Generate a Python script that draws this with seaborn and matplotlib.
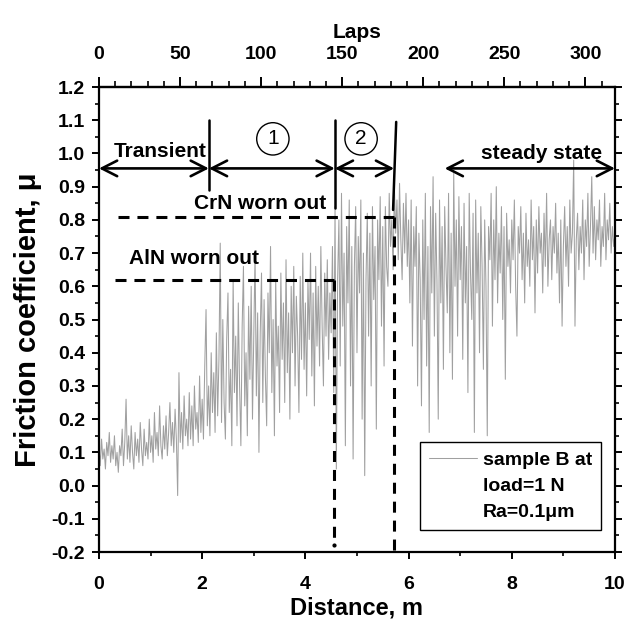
import numpy as np
import pandas as pd
import matplotlib
matplotlib.use("Agg")
import matplotlib.pyplot as plt
import seaborn as sns
from matplotlib.lines import Line2D
from matplotlib.ticker import MultipleLocator

# ---------------- data ----------------
step = 0.025  # sampling step of the trace along the distance axis, m
mu = [
    0.12, 0.06, 0.14, 0.08, 0.11, 0.05, 0.13, 0.09, 0.16, 0.07,
    0.12, 0.08, 0.15, 0.06, 0.10, 0.04, 0.12, 0.09, 0.17, 0.06,
    0.13, 0.26, 0.08, 0.15, 0.07, 0.18, 0.10, 0.05, 0.16, 0.09,
    0.14, 0.07, 0.19, 0.11, 0.06, 0.17, 0.09, 0.13, 0.08, 0.20,
    0.10, 0.15, 0.07, 0.22, 0.11, 0.16, 0.09, 0.24, 0.12, 0.08,
    0.18, 0.11, 0.21, 0.09, 0.16, 0.25, 0.12, 0.19, 0.10, 0.23,
    0.14, -0.03, 0.34, 0.13, 0.22, 0.11, 0.27, 0.15, 0.20, 0.12,
    0.28, 0.14, 0.24, 0.12, 0.30, 0.17, 0.22, 0.13, 0.33, 0.16,
    0.26, 0.14, 0.36, 0.53, 0.18, 0.30, 0.15, 0.40, 0.22, 0.34,
    0.16, 0.46, 0.21, 0.38, 0.73, 0.19, 0.50, 0.25, 0.14, 0.44,
    0.58, 0.22, 0.35, 0.12, 0.62, 0.28, 0.45, 0.18, 0.55, 0.30,
    0.12, 0.48, 0.66, 0.24, 0.40, 0.15, 0.54, 0.32, 0.60, 0.20,
    0.44, 0.70, 0.27, 0.52, 0.10, 0.46, 0.64, 0.25, 0.56, 0.33,
    0.18, 0.58, 0.40, 0.72, 0.28, 0.50, 0.15, 0.62, 0.36, 0.48,
    0.22, 0.64, 0.38, 0.55, 0.25, 0.68, 0.34, 0.52, 0.20, 0.60,
    0.40, 0.66, 0.30, 0.57, 0.45, 0.22, 0.63, 0.38, 0.70, 0.35,
    0.55, 0.27, 0.62, 0.44, 0.70, 0.33, 0.58, 0.24, 0.66, 0.42,
    0.60, 0.36, 0.72, 0.48, 0.30, 0.64, 0.45, 0.68, 0.38, 0.58,
    0.46, 0.72, 0.28, 0.84, 0.05, 0.62, 0.80, 0.36, 0.88, 0.48,
    0.70, 0.12, 0.78, 0.55, 0.86, 0.30, 0.72, 0.08, 0.66, 0.84,
    0.40, 0.75, 0.58, 0.86, 0.20, 0.70, 0.03, 0.62, 0.82, 0.45,
    0.76, 0.30, 0.84, 0.56, 0.72, 0.17, 0.80, 0.62, 0.87, 0.48,
    0.78, 0.36, 0.84, 0.66, 0.60, 0.88, 0.72, 0.80, 0.65, 0.90,
    0.76, 0.86, 0.68, 0.91, 0.74, 0.62, 0.85, 0.70, 0.88, 0.66,
    0.80, 0.55, 0.86, 0.42, 0.78, 0.66, 0.84, 0.30, 0.76, 0.62,
    0.24, 0.80, 0.50, 0.88, 0.36, 0.72, 0.16, 0.84, 0.58, 0.93,
    0.45, 0.82, 0.62, 0.20, 0.86, 0.55, 0.78, 0.35, 0.84, 0.66,
    0.52, 0.88, 0.40, 0.76, 0.32, 0.94, 0.60, 0.80, 0.45, 0.87,
    0.62, 0.78, 0.38, 0.85, 0.55, 0.72, 0.28, 0.88, 0.64, 0.50,
    0.82, 0.16, 0.86, 0.58, 0.76, 0.40, 0.84, 0.66, 0.35, 0.80,
    0.60, 0.15, 0.78, 0.68, 0.88, 0.48, 0.80, 0.62, 0.90, 0.55,
    0.76, 0.64, 0.84, 0.50, 0.78, 0.32, 0.82, 0.66, 0.74, 0.58,
    0.80, 0.68, 0.86, 0.60, 0.45, 0.78, 0.70, 0.84, 0.62, 0.76,
    0.55, 0.82, 0.66, 0.74, 0.60, 0.86, 0.68, 0.78, 0.52, 0.80,
    0.64, 0.84, 0.70, 0.76, 0.58, 0.82, 0.66, 0.88, 0.60, 0.74,
    0.80, 0.62, 0.78, 0.70, 0.85, 0.64, 0.76, 0.55, 0.80, 0.48,
    0.72, 0.84, 0.66, 0.78, 0.60, 0.86, 0.70, 0.76, 0.98, 0.48,
    0.74, 0.82, 0.65, 0.78, 0.70, 0.86, 0.62, 0.80, 0.72, 0.88,
    0.66, 0.78, 0.93, 0.70, 0.84, 0.68, 0.80, 0.74, 0.86, 0.66,
    0.78, 0.72, 0.88, 0.68, 0.80, 0.74, 0.85, 0.70, 0.78, 0.72,
    0.76,
]
distance = np.round(np.arange(len(mu)) * step, 4)

laps_per_m = 31.83
x_ticks = [0, 2, 4, 6, 8, 10]
y_ticks = [-0.2, -0.1, 0.0, 0.1, 0.2, 0.3, 0.4, 0.5, 0.6, 0.7, 0.8, 0.9, 1.0, 1.1, 1.2]
lap_ticks = [0, 50, 100, 150, 200, 250, 300]

legend_lines = ["sample B at", "load=1 N", "Ra=0.1\u03bcm"]

# ---------------- style ----------------
sns.set_theme(style="ticks")
plt.rcParams["font.family"] = ["Liberation Sans", "DejaVu Sans"]
plt.rcParams["font.weight"] = "bold"
plt.rcParams["axes.linewidth"] = 1.6
plt.rcParams["text.color"] = "black"
plt.rcParams["axes.labelcolor"] = "black"
plt.rcParams["xtick.color"] = "black"
plt.rcParams["ytick.color"] = "black"

fig = plt.figure(figsize=(6.41, 6.28), dpi=100)
ax = fig.add_axes([0.1544, 0.1210, 0.8050, 0.7404])

df = pd.DataFrame({"Distance": distance, "mu": mu})
sns.lineplot(data=df, x="Distance", y="mu", ax=ax, color="#a0a0a0",
             lw=0.75, sort=False, legend=False, estimator=None)
trace = ax.get_lines()[0]

ax.set_xlim(0, 10)
ax.set_ylim(-0.2, 1.2)
ax.set_xticks(x_ticks)
ax.set_xticklabels([str(t) for t in x_ticks])
ax.xaxis.set_minor_locator(MultipleLocator(1))
ax.set_yticks(y_ticks)
ax.set_yticklabels([f"{t:.1f}" for t in y_ticks])
ax.yaxis.set_minor_locator(MultipleLocator(0.05))
for s in ax.spines.values():
    s.set_visible(True)
    s.set_color("black")
    s.set_linewidth(1.6)

ax.tick_params(axis="both", which="major", direction="out", length=5, width=1.4,
               labelsize=14, colors="black")
ax.tick_params(axis="both", which="minor", direction="out", length=3, width=1.2)
ax.tick_params(axis="x", which="both", top=False, pad=12)
ax.tick_params(axis="y", which="both", right=True, labelright=False, pad=5)

ax.set_xlabel("Distance, m", fontsize=17, fontweight="bold", labelpad=3)
ax.set_ylabel("Friction coefficient, \u03bc", fontsize=21, fontweight="bold", labelpad=7)

secax = ax.secondary_xaxis("top", functions=(lambda d: d * laps_per_m,
                                             lambda l: l / laps_per_m))
secax.set_xticks(lap_ticks)
secax.set_xticklabels([str(t) for t in lap_ticks])
secax.xaxis.set_minor_locator(MultipleLocator(10))
secax.tick_params(which="major", direction="out", length=7, width=1.4, labelsize=14,
                  pad=10, colors="black")
secax.tick_params(which="minor", direction="out", length=4, width=1.2)
secax.spines["top"].set_linewidth(1.6)
secax.set_xlabel("Laps", fontsize=15, fontweight="bold", labelpad=6)

# ---------------- annotations ----------------
arrow_kw = dict(arrowstyle="<->,head_length=0.55,head_width=0.28", lw=1.9,
                color="black", mutation_scale=20, shrinkA=0, shrinkB=0)
y_arr = 0.955
for x0, x1 in [(0.0, 2.13), (2.13, 4.57), (4.57, 5.72), (6.7, 10.0)]:
    ax.annotate("", xy=(x1, y_arr), xytext=(x0, y_arr), arrowprops=arrow_kw,
                annotation_clip=False)

for (xa, ya), (xb, yb) in [((2.13, 0.89), (2.13, 1.10)),
                           ((4.57, 0.836), (4.57, 1.10)),
                           ((5.70, 0.83), (5.76, 1.095))]:
    ax.plot([xa, xb], [ya, yb], color="black", lw=1.8)

txt_kw = dict(ha="center", va="center", fontsize=15, fontweight="bold")
ax.text(1.18, 1.005, "Transient", **txt_kw)
ax.text(8.57, 1.0, "steady state", **txt_kw)
ax.text(3.12, 0.848, "CrN worn out", **txt_kw)
ax.text(1.84, 0.685, "AlN worn out", **txt_kw)

circ = dict(boxstyle="circle,pad=0.32", fc="white", ec="black", lw=1.0)
ax.text(3.37, 1.044, "1", ha="center", va="center", fontsize=15, fontweight="normal", bbox=circ)
ax.text(5.08, 1.044, "2", ha="center", va="center", fontsize=15, fontweight="normal", bbox=circ)

dash_kw = dict(color="black", lw=2.2, dashes=(3.6, 2.6))
ax.plot([0.37, 5.72], [0.81, 0.81], **dash_kw)
ax.plot([5.72, 5.72], [0.81, -0.215], clip_on=False, **dash_kw)
ax.plot([0.31, 4.55], [0.62, 0.62], **dash_kw)
ax.plot([4.55, 4.55], [0.62, -0.16], **dash_kw)
ax.plot([4.55], [-0.18], marker="o", ms=2, color="black")

# ---------------- legend ----------------
blank = Line2D([], [], color="none")
leg = ax.legend(handles=[trace, blank, blank], labels=legend_lines,
                loc="lower right", bbox_to_anchor=(0.973, 0.047),
                borderaxespad=0, frameon=True, fancybox=False, framealpha=1,
                edgecolor="black", fontsize=14, handlelength=2.5,
                handletextpad=0.3, labelspacing=0.45, borderpad=0.45)
leg.get_frame().set_linewidth(1.0)
for t in leg.get_texts():
    t.set_fontweight("bold")

fig.savefig("out.png", dpi=100)
